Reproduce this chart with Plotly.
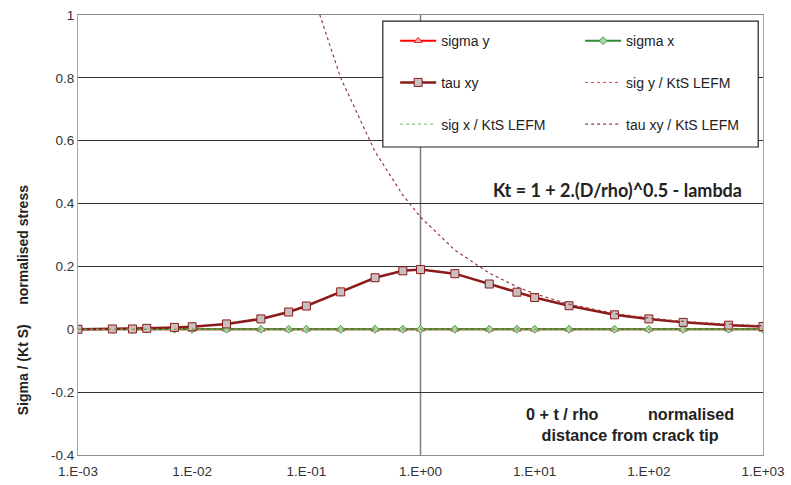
import plotly.graph_objects as go

# ---- data ----
t_rho = [0.001, 0.002, 0.003, 0.004, 0.007, 0.01, 0.02, 0.04, 0.07, 0.1, 0.2, 0.4, 0.7,
         1, 2, 4, 7, 10, 20, 50, 100, 200, 500, 1000]
sigma_y = [0.0] * len(t_rho)
sigma_x = [0.0] * len(t_rho)
tau_xy = [0.0, 0.001, 0.001, 0.003, 0.006, 0.008, 0.017, 0.033, 0.055, 0.074, 0.119, 0.164, 0.186,
          0.190, 0.177, 0.144, 0.118, 0.101, 0.075, 0.046, 0.033, 0.022, 0.013, 0.009]
sig_y_lefm = [0.0] * len(t_rho)
sig_x_lefm = [0.0] * len(t_rho)
tau_xy_lefm = [None, None, None, None, None, None, None, None, 1.35, 1.13, 0.80, 0.565, 0.427,
               0.357, 0.252, 0.179, 0.135, 0.113, 0.080, 0.050, 0.036, 0.025, 0.016, 0.011]

x_tickvals = [1e-3, 1e-2, 1e-1, 1e0, 1e1, 1e2, 1e3]
x_ticktext = ["1.E-03", "1.E-02", "1.E-01", "1.E+00", "1.E+01", "1.E+02", "1.E+03"]
y_tickvals = [-0.4, -0.2, 0, 0.2, 0.4, 0.6, 0.8, 1]
y_ticktext = ["-0.4", "-0.2", "0", "0.2", "0.4", "0.6", "0.8", "1"]

FONT = "Liberation Sans, Arial, sans-serif"

fig = go.Figure()

fig.add_trace(go.Scatter(
    x=t_rho, y=sigma_y, name="sigma y", mode="lines+markers",
    line=dict(color="#FF0000", width=2),
    marker=dict(symbol="triangle-up", size=7, color="#F4A6A6", line=dict(color="#E03030", width=1)),
    legend="legend", legendgroup="a"))
fig.add_trace(go.Scatter(
    x=t_rho, y=sigma_x, name="sigma x", mode="lines+markers",
    line=dict(color="#2E8B2E", width=2),
    marker=dict(symbol="diamond", size=6, color="#A8D8A8", line=dict(color="#4E9A4E", width=1)),
    legend="legend2", legendgroup="b"))
fig.add_trace(go.Scatter(
    x=t_rho, y=tau_xy, name="tau xy", mode="lines+markers",
    line=dict(color="#8B1A1A", width=2.5),
    marker=dict(symbol="square", size=8, color="#C8C0C0", line=dict(color="#8B1A1A", width=1)),
    legend="legend", legendgroup="c"))
fig.add_trace(go.Scatter(
    x=t_rho, y=sig_y_lefm, name="sig y / KtS LEFM", mode="lines",
    line=dict(color="#E04040", width=1, dash="dot"),
    legend="legend2", legendgroup="d"))
fig.add_trace(go.Scatter(
    x=t_rho, y=sig_x_lefm, name="sig x / KtS LEFM", mode="lines",
    line=dict(color="#5CB85C", width=1, dash="dot"),
    legend="legend", legendgroup="e"))
fig.add_trace(go.Scatter(
    x=t_rho, y=tau_xy_lefm, name="tau xy / KtS LEFM", mode="lines",
    line=dict(color="#9B3A3A", width=1.2, dash="dot"),
    legend="legend2", legendgroup="f"))

leg_common = dict(
    bgcolor="rgba(0,0,0,0)", borderwidth=0, font=dict(family=FONT, size=14, color="#222"),
    traceorder="grouped", tracegroupgap=20.5, itemwidth=36, xanchor="left", yanchor="top",
)

fig.update_layout(
    width=791, height=485,
    margin=dict(l=78, r=28, t=15, b=30, autoexpand=False),
    paper_bgcolor="white", plot_bgcolor="white",
    font=dict(family=FONT, size=13.5, color="#333"),
    showlegend=True,
    legend=dict(x=0.463, y=0.977, **leg_common),
    legend2=dict(x=0.733, y=0.977, **leg_common),
    xaxis=dict(
        type="log", range=[-3, 3], tickvals=x_tickvals, ticktext=x_ticktext,
        showgrid=False, showline=True, linecolor="#8C8C8C", linewidth=1, mirror=True,
        ticks="", ticklabelstandoff=4,
        tickfont=dict(family=FONT, size=13.5, color="#333"), zeroline=False,
    ),
    yaxis=dict(
        range=[-0.4, 1], tickvals=y_tickvals, ticktext=y_ticktext,
        showgrid=True, gridcolor="#333333", gridwidth=1,
        showline=True, linecolor="#A6A6A6", linewidth=1, mirror=True,
        ticks="", tickfont=dict(family=FONT, size=13.5, color="#333"), zeroline=False,
    ),
    shapes=[
        dict(type="line", xref="x", yref="paper", x0=1, x1=1, y0=0, y1=1,
             line=dict(color="#7F7F7F", width=1.5), layer="below"),
        dict(type="rect", xref="paper", yref="paper", x0=0.445, x1=0.993, y0=0.700, y1=0.986,
             fillcolor="white", line=dict(color="#222", width=1.2), layer="above"),
    ],
    annotations=[
        dict(text="<b>Sigma / (Kt S)&nbsp;&nbsp;&nbsp;&nbsp;&nbsp;normalised stress</b>",
             xref="paper", yref="paper", x=-0.080, y=0.352, textangle=-90,
             showarrow=False, font=dict(family=FONT, size=14, color="#222"),
             xanchor="center", yanchor="middle"),
        dict(text="<b>Kt = 1 + 2.(D/rho)^0.5 - lambda</b>",
             xref="paper", yref="paper", x=0.7876, y=0.602, showarrow=False,
             font=dict(family="Lato, sans-serif", size=18, color="#222"),
             xanchor="center", yanchor="middle"),
        dict(text="<b>0 + t / rho" + "&nbsp;" * 11 + "normalised<br>distance from crack tip</b>",
             xref="paper", yref="paper", x=0.806, y=0.069, showarrow=False,
             font=dict(family=FONT, size=16.2, color="#222"),
             xanchor="center", yanchor="middle", align="center"),
    ],
)

fig.write_html("out.html", config={"displayModeBar": False},
               post_script="document.body.style.margin='0';document.body.style.overflow='hidden';")
